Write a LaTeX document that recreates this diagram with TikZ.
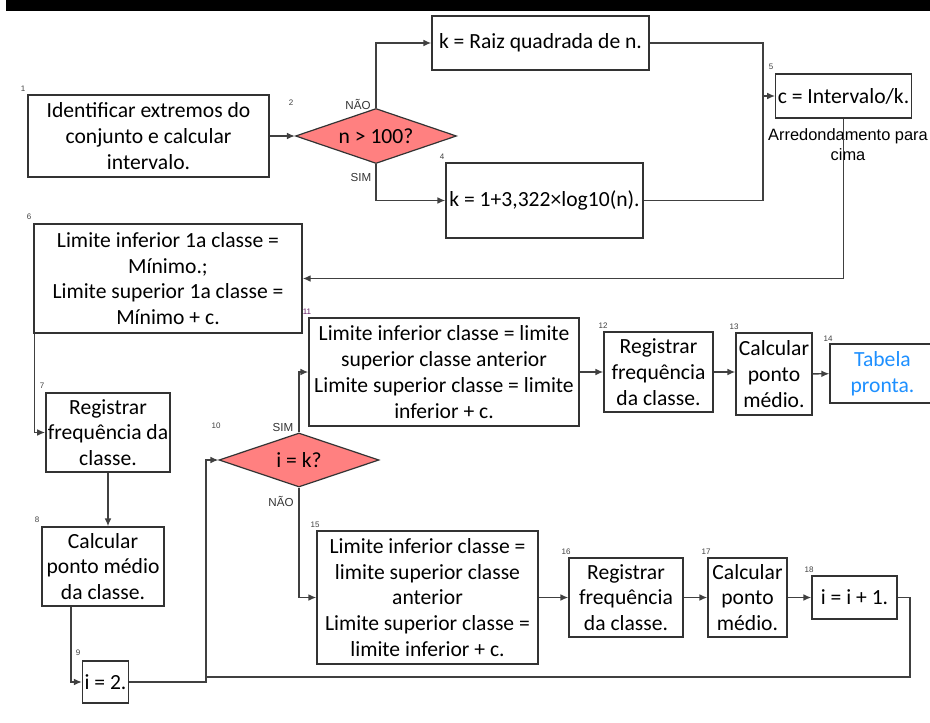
\documentclass[tikz,border=0pt]{standalone}
\usepackage{fontspec}
\setmainfont{Carlito}
\newfontfamily\arialfont{Liberation Sans}
\usetikzlibrary{shapes.geometric}
\usetikzlibrary{arrows.meta}
\usetikzlibrary{calc}

\definecolor{diafill}{RGB}{255,128,128}
\definecolor{tabblue}{RGB}{30,144,255}
\definecolor{numpurple}{RGB}{100,30,100}

\tikzset{
  box/.style={draw=black!80, fill=white, line width=0.7pt, align=center, inner sep=1pt,
    font=\fontsize{10.8}{12.9}\selectfont},
  dec/.style={diamond, shape aspect=2.9, draw=black!80, fill=diafill, line width=0.6pt, inner sep=0pt,
    font=\fontsize{10.8}{12.9}\selectfont},
  sz/.style 2 args={minimum width=#1*0.5pt, minimum height=#2*0.5pt},
  num/.style={font=\arialfont\fontsize{4}{5}\selectfont, inner sep=0pt},
  ans/.style={font=\arialfont\fontsize{5.8}{7}\selectfont, text=black!80, inner sep=0pt},
  flow/.style={draw=black!75, line width=0.7pt, -{Latex[length=4pt,width=3.4pt]}},
  link/.style={draw=black!75, line width=0.7pt},
}

\begin{document}
\begin{tikzpicture}[x=0.5pt, y=-0.5pt]
\useasboundingbox (0,0) rectangle (930,722);

% black bar on top
\fill (6,-5) rectangle (935,11);

% first part: n and k
\node[box, sz={241}{82}] (ident) at (148.5,136) {Identificar extremos do\\conjunto e calcular\\intervalo.};
\node[dec, sz={161}{55}] (testn) at (376,136) {n > 100?};
\node[box, sz={217}{54}] (kraiz) at (540.5,43) {k = Raiz quadrada de n.};
\node[box, sz={197}{75}] (kstur) at (544.5,200.5) {k = 1+3,322×log10(n).};
\node[box, sz={135}{44}] (cint) at (843.5,96) {c = Intervalo/k.};
\node[font=\arialfont\fontsize{8.2}{10}\selectfont, align=center, inner sep=0pt] (arred) at (848,145) {Arredondamento para\\cima};

% first class
\node[box, sz={268}{109}] (lim1) at (168,278.5) {Limite inferior 1a classe =\\Mínimo.;\\Limite superior 1a classe =\\Mínimo + c.};
\node[box, sz={122}{79}] (freq1) at (108,432.5) {Registrar\\frequência da\\classe.};
\node[box, sz={122}{79}] (pm1) at (103,566.5) {Calcular\\ponto médio\\da classe.};
\node[box, sz={45}{42}] (iini) at (105.5,682) {i = 2.};
\node[dec, sz={160}{54}] (testi) at (299,460) {i = k?};

% last class
\node[box, sz={270}{108}] (limk) at (444,372) {Limite inferior classe = limite\\superior classe anterior\\Limite superior classe = limite\\inferior + c.};
\node[box, sz={109}{80}] (freqk) at (658.5,372) {Registrar\\frequência\\da classe.};
\node[box, sz={76}{82}] (pmk) at (774,374) {Calcular\\ponto\\médio.};
\node[box, sz={105}{59}, text=tabblue] (fim) at (882.5,373.5) {Tabela\\pronta.};

% other classes
\node[box, sz={221}{133}] (limi) at (427.5,597.5) {Limite inferior classe =\\limite superior classe\\anterior\\Limite superior classe =\\limite inferior + c.};
\node[box, sz={114}{79}] (freqi) at (626,597.5) {Registrar\\frequência\\da classe.};
\node[box, sz={79}{79}] (pmi) at (747.5,597.5) {Calcular\\ponto\\médio.};
\node[box, sz={85}{43}] (incr) at (854.5,597.5) {i = i + 1.};

% answers
\node[ans] (nao2) at (358,104) {NÃO};
\node[ans] (sim2) at (361,178) {SIM};
\node[ans] (sim10) at (283,428) {SIM};
\node[ans] (nao10) at (281,501) {NÃO};

% step numbers
\foreach \n/\px/\py/\c in {1/23/89/black!75, 2/291/103/black!75, 4/442/157/black!75,
  5/771/67/black!75, 6/29/217/black!75, 7/42/386/black!75, 8/37/520/black!75,
  9/78/653/black!75, 10/216/426/black!75, 11/307/312/numpurple, 12/603/326/black!75,
  13/734/327/black!75, 14/828/339/black!75, 15/315/525/black!75, 16/566/552/black!75,
  17/706/552/black!75, 18/809/570/black!75}
  \node[num, text=\c] (step\n) at (\px,\py) {\n};

% joints
\coordinate (jk) at (763,96);
\coordinate (jloop) at (206,460);
\coordinate (jback) at (910,677);

% connectors
\draw[flow] (ident) -- (testn);
\draw[flow] (testn.north) |- (kraiz.west);
\draw[flow] (testn.south) |- (kstur.west);
\draw[link] (kraiz.east) -| (jk);
\draw[link] (kstur.east) -| (jk);
\draw[flow] (jk) -- (cint.west);
\draw[flow] (cint.south) |- (lim1.east);
\draw[flow] ([xshift=0.5pt]lim1.south west) |- (freq1.west);
\draw[flow] (freq1.south) -- (freq1.south |- pm1.north);
\draw[flow] ($(pm1.south west)!0.24!(pm1.south east)$) |- (iini.west);
\draw[flow] (iini.east) -| (jloop) -- (testi.west);
\draw[flow] (testi.north) |- (limk.west);
\draw[flow] (testi.south) |- (limi.west);
\draw[flow] (limk) -- (freqk);
\draw[flow] (freqk.east) -- (freqk.east -| pmk.west);
\draw[flow] (pmk) -- (fim);
\draw[flow] (limi) -- (freqi);
\draw[flow] (freqi) -- (pmi);
\draw[flow] (pmi) -- (incr);
\draw[link] (incr.east) -| (jback) -- (jback -| jloop);

\end{tikzpicture}
\end{document}
